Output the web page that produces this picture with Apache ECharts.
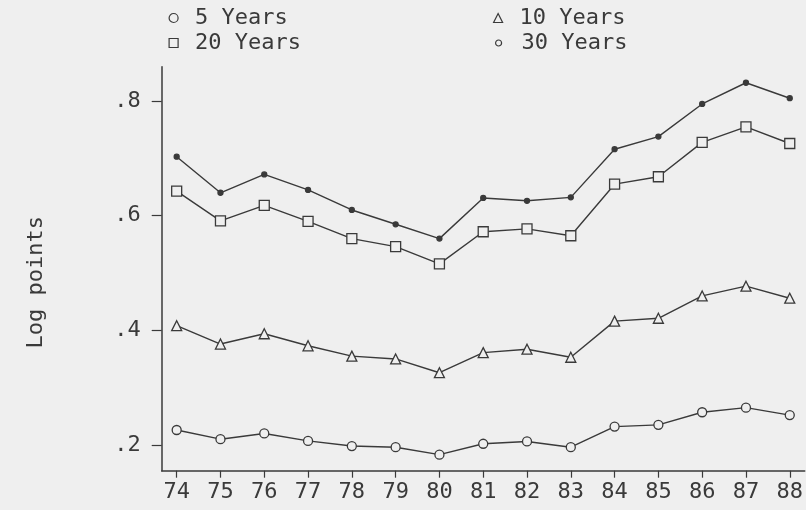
<!DOCTYPE html>
<html>
<head>
<meta charset="utf-8">
<script src="https://cdn.jsdelivr.net/npm/echarts@6/dist/echarts.min.js"></script>
<style>
html,body{margin:0;padding:0;background:#efefef;}
#chart{width:806px;height:510px;}
</style>
</head>
<body>
<div id="chart"></div>
<script>
const years = [74,75,76,77,78,79,80,81,82,83,84,85,86,87,88];
const yTicks = [0.2,0.4,0.6,0.8];
const yTickLabels = ['.2','.4','.6','.8'];
const years5  = [0.226,0.210,0.220,0.207,0.198,0.196,0.183,0.202,0.206,0.196,0.232,0.235,0.257,0.265,0.252];
const years10 = [0.408,0.376,0.394,0.373,0.355,0.350,0.326,0.361,0.367,0.353,0.416,0.421,0.460,0.477,0.456];
const years20 = [0.643,0.591,0.618,0.590,0.560,0.546,0.516,0.572,0.577,0.565,0.655,0.668,0.728,0.755,0.726];
const years30 = [0.703,0.640,0.672,0.645,0.610,0.585,0.560,0.631,0.626,0.632,0.716,0.738,0.795,0.832,0.805];
const seriesNames = ['5 Years','10 Years','20 Years','30 Years'];

const ink = '#3a3a3a';
const font = 'DejaVu Sans Mono';
const pairs = arr => years.map((y,i)=>[y,arr[i]]);

function mkSeries(name, data, symbol, size, filled){
  return {
    name, type:'line', data:pairs(data), symbol, symbolSize:size,
    showAllSymbol:true, animation:false,
    lineStyle:{color:ink,width:1.4},
    itemStyle:{color: filled ? ink : '#efefef', borderColor:ink, borderWidth:1.3},
    emphasis:{disabled:true}
  };
}
function mkLegend(name, left, top, icon, size, pad){
  return {
    data:[name], left, top, icon, itemWidth:size, itemHeight:size, itemGap:0,
    selectedMode:false,
    itemStyle:{color:'transparent', borderColor:ink, borderWidth:1.2},
    textStyle:{fontFamily:font, fontSize:22, color:ink, lineHeight:22, padding:[0,0,0,pad]}
  };
}

const chart = echarts.init(document.getElementById('chart'), null, {renderer:'canvas'});
chart.setOption({
  backgroundColor:'#efefef',
  animation:false,
  grid:{left:161.7, right:0, top:66.7, bottom:39.3, containLabel:false},
  legend:[
    mkLegend(seriesNames[0],163.5,2,'circle',9,12),
    mkLegend(seriesNames[1],488,2,'triangle',9,12),
    mkLegend(seriesNames[2],163.5,27,'rect',9,12),
    mkLegend(seriesNames[3],490,27,'circle',6,15)
  ],
  xAxis:{
    type:'value', min:73.658, max:88.342,
    axisLine:{show:true,lineStyle:{color:ink,width:1.5}},
    axisTick:{show:true,customValues:years,length:7,lineStyle:{color:ink,width:1.2}},
    axisLabel:{customValues:years,fontFamily:font,fontSize:22,color:ink,margin:11,formatter:v=>String(Math.round(v))},
    splitLine:{show:false}
  },
  yAxis:{
    type:'value', min:0.155, max:0.86,
    axisLine:{show:true,lineStyle:{color:ink,width:1.5}},
    axisTick:{show:true,customValues:yTicks,length:10,lineStyle:{color:ink,width:1.2}},
    axisLabel:{customValues:yTicks,fontFamily:font,fontSize:22,color:ink,margin:21,
      formatter:v=>{const i=yTicks.findIndex(t=>Math.abs(t-v)<1e-6);return i>=0?yTickLabels[i]:'';}},
    splitLine:{show:false}
  },
  graphic:[{
    type:'text', left:25, top:216, rotation:Math.PI/2, silent:true,
    style:{text:'Log points', font:'22px "DejaVu Sans Mono"', fill:ink}
  }],
  series:[
    mkSeries(seriesNames[0],years5,'circle',9,false),
    mkSeries(seriesNames[1],years10,'triangle',10,false),
    mkSeries(seriesNames[2],years20,'rect',10,false),
    mkSeries(seriesNames[3],years30,'circle',5,true)
  ]
});
</script>
</body>
</html>
